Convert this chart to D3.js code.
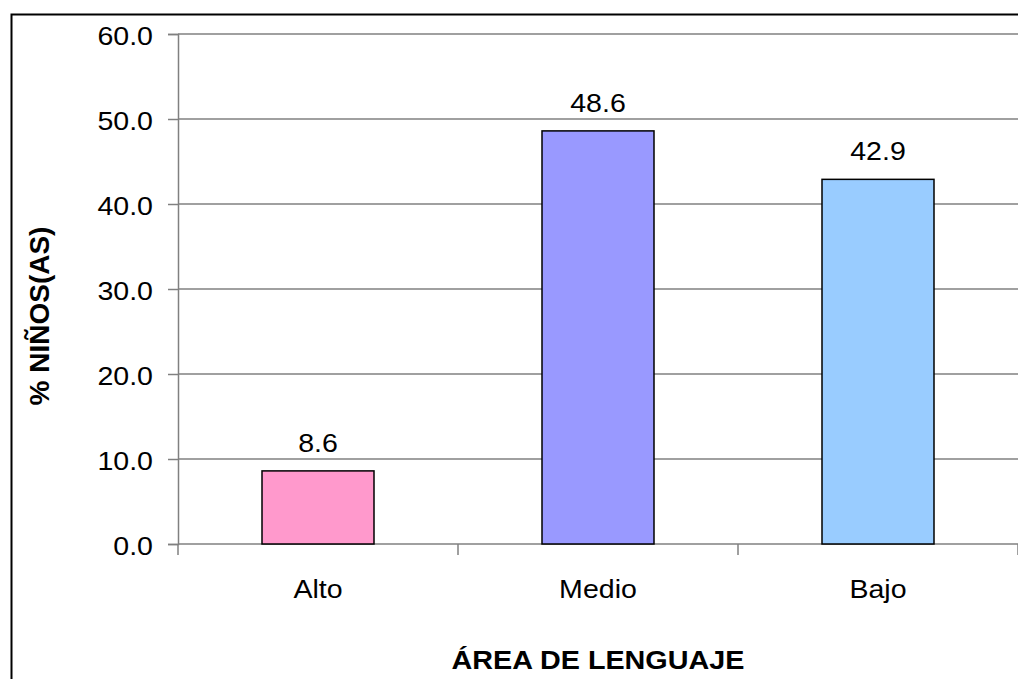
<!DOCTYPE html>
<html>
<head>
<meta charset="utf-8">
<script src="https://cdn.jsdelivr.net/npm/d3@7"></script>
<style>
  body { margin: 0; background: #fff; }
  text { font-family: "Liberation Sans", Arial, sans-serif; fill: #000; }
</style>
</head>
<body>
<div id="chart"></div>
<script>
// chart data
var categories = ["Alto", "Medio", "Bajo"];
var values = [8.6, 48.6, 42.9];
var colors = ["#FF99CC", "#9999FF", "#99CCFF"];
var yTicks = [0, 10, 20, 30, 40, 50, 60];
var xTitle = "ÁREA DE LENGUAJE";
var yTitle = "% NIÑOS(AS)";

var W = 1018, H = 679;
var margin = {top: 34, right: 0, bottom: 135, left: 178},
    width = W - margin.left - margin.right,
    height = H - margin.top - margin.bottom;

// the original text is a little wide, stretch it horizontally
var sx = 1.12;

var svg = d3.select("#chart")
  .append("svg")
    .attr("width", W)
    .attr("height", H);

// outer frame (runs off the right and bottom edges)
svg.append("rect")
    .attr("x", 11.5)
    .attr("y", 14.5)
    .attr("width", W + 20)
    .attr("height", H + 20)
    .attr("fill", "none")
    .attr("stroke", "#000")
    .attr("stroke-width", 2);

var g = svg.append("g")
    .attr("transform", "translate(" + margin.left + "," + margin.top + ")");

var x = d3.scaleBand()
  .domain(categories)
  .range([0, width])
  .paddingInner(0)
  .paddingOuter(0);

var y = d3.scaleLinear()
  .domain([0, 60])
  .range([height, 0]);

// y axis line and ticks
var yAxis = g.append("g")
  .call(d3.axisLeft(y).tickValues(yTicks).tickSize(10).tickFormat(""));
yAxis.select(".domain").attr("stroke", "#808080").attr("stroke-width", 1.5);
yAxis.selectAll(".tick line").attr("stroke", "#808080").attr("stroke-width", 1.5);

// tick labels
g.append("g")
  .selectAll("text")
  .data(yTicks)
  .enter()
  .append("text")
    .attr("transform", function(d) { return "translate(-25," + (y(d) + 11) + ") scale(" + sx + ",1)"; })
    .attr("text-anchor", "end")
    .attr("font-size", 25.5)
    .text(function(d) { return d.toFixed(1); });

// gridlines
g.append("g")
  .selectAll("line")
  .data(yTicks)
  .enter()
  .append("line")
    .attr("x1", 0)
    .attr("x2", width + 10)
    .attr("y1", function(d) { return y(d); })
    .attr("y2", function(d) { return y(d); })
    .attr("stroke", "#808080")
    .attr("stroke-width", 1.5);

// x axis: ticks at category boundaries
var bounds = categories.map(function(c) { return x(c); }).concat([width]);
g.append("g")
  .selectAll("line")
  .data(bounds)
  .enter()
  .append("line")
    .attr("x1", function(d) { return d; })
    .attr("x2", function(d) { return d; })
    .attr("y1", height)
    .attr("y2", height + 11)
    .attr("stroke", "#808080")
    .attr("stroke-width", 1.5);

g.append("g")
  .selectAll("text")
  .data(categories)
  .enter()
  .append("text")
    .attr("transform", function(d) { return "translate(" + (x(d) + x.bandwidth() / 2) + "," + (height + 54) + ") scale(" + sx + ",1)"; })
    .attr("text-anchor", "middle")
    .attr("font-size", 25.5)
    .text(function(d) { return d; });

// bars
var barW = x.bandwidth() * 0.4;
g.append("g")
  .selectAll("rect")
  .data(values)
  .enter()
  .append("rect")
    .attr("x", function(d, i) { return x(categories[i]) + (x.bandwidth() - barW) / 2; })
    .attr("y", function(d) { return y(d); })
    .attr("width", barW)
    .attr("height", function(d) { return height - y(d); })
    .attr("fill", function(d, i) { return colors[i]; })
    .attr("stroke", "#000")
    .attr("stroke-width", 1.5);

// value labels
g.append("g")
  .selectAll("text")
  .data(values)
  .enter()
  .append("text")
    .attr("transform", function(d, i) { return "translate(" + (x(categories[i]) + x.bandwidth() / 2) + "," + (y(d) - 19) + ") scale(" + sx + ",1)"; })
    .attr("text-anchor", "middle")
    .attr("font-size", 25.5)
    .text(function(d) { return d.toFixed(1); });

// axis titles
svg.append("text")
    .attr("transform", "translate(598,669) scale(1.15,1)")
    .attr("text-anchor", "middle")
    .attr("font-size", 25)
    .attr("font-weight", "bold")
    .text(xTitle);

svg.append("text")
    .attr("transform", "translate(49,316) rotate(-90)")
    .attr("text-anchor", "middle")
    .attr("font-size", 28)
    .attr("font-weight", "bold")
    .text(yTitle);
</script>
</body>
</html>
